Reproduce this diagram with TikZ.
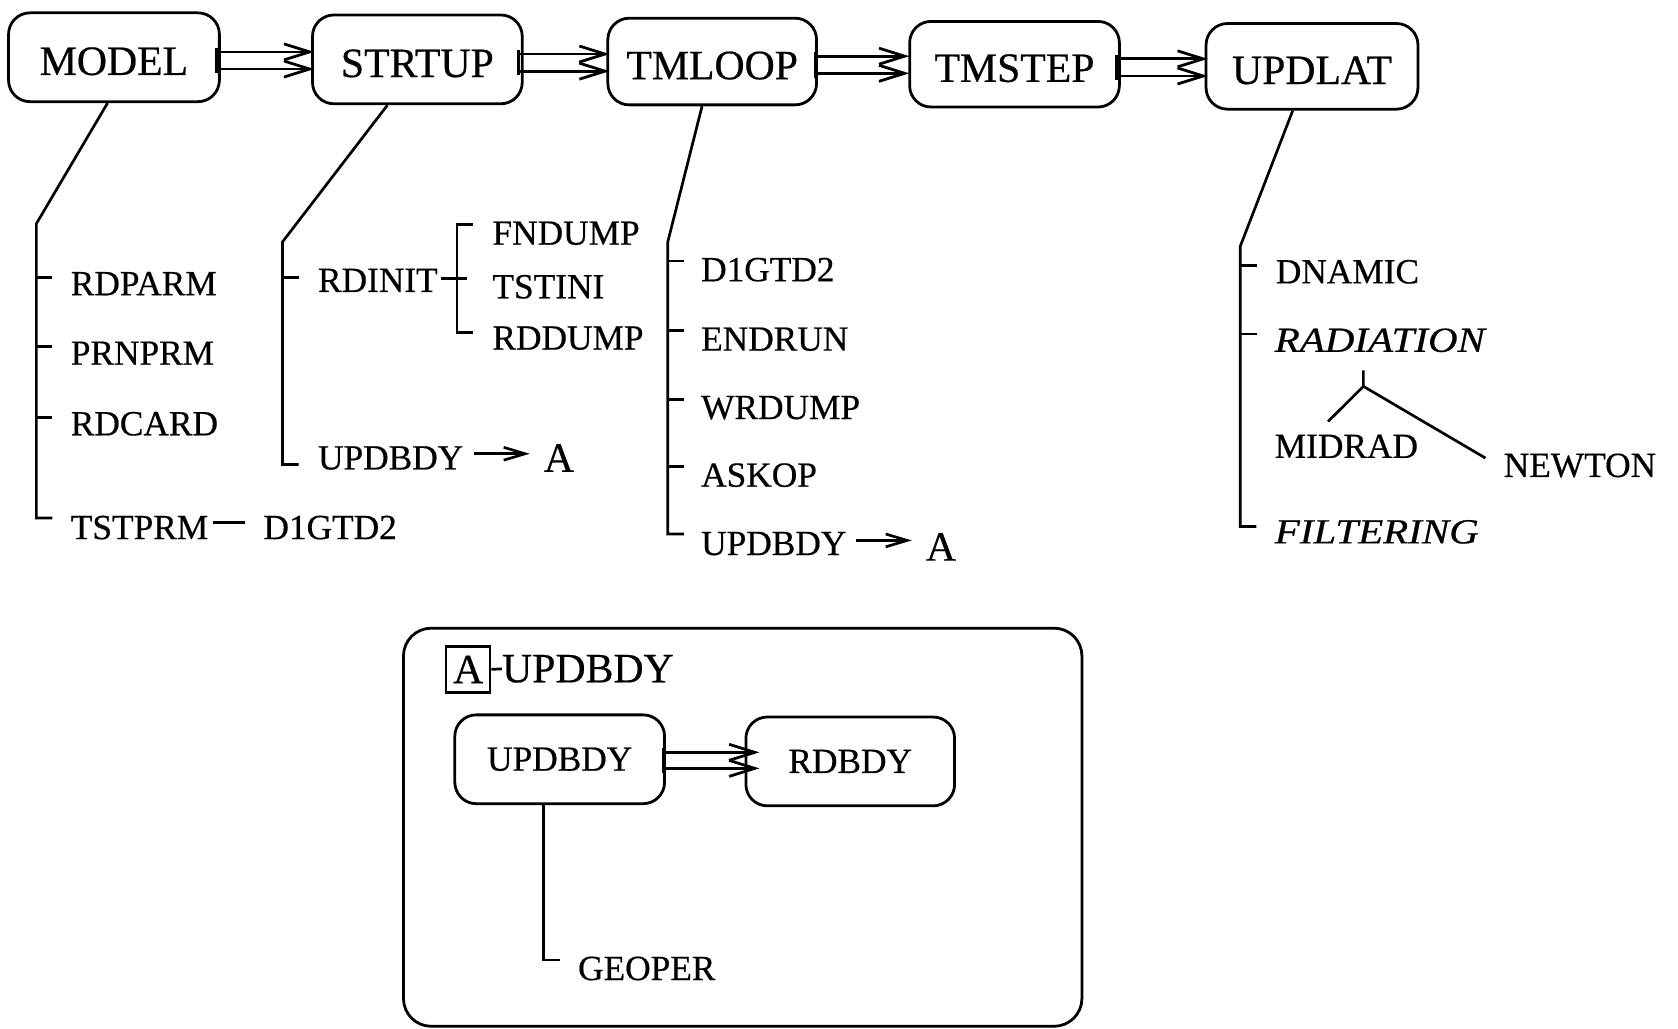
\documentclass[tikz,border=0pt]{standalone}
\usepackage{fontspec}
\usepackage{graphicx}
\setmainfont{Liberation Serif}[FakeBold=0.5]
\usetikzlibrary{arrows.meta,calc}
\newcommand\BigFnt{\fontsize{39}{39}\selectfont}
\newcommand\LabFnt{\fontsize{33}{33}\selectfont}
\newcommand\WideIt[1]{\scalebox{1.16}[1]{\itshape #1}}
% double connector: #1 source, #2 target, #3 upper offset, #4 lower offset, #5 bar x offset, #6 tip x offset
\newcommand\DblArr[6]{%
  \coordinate (da) at ($(#1.east)+(#5,#3)$);
  \coordinate (db) at ($(#1.east)+(#5,#4)$);
  \draw[dblconn] (da) -- ($(da -| #2.west)+(#6,0)$);
  \draw[dblconn] (db) -- ($(db -| #2.west)+(#6,0)$);
  \draw[treeline] ($(da)+(0,-4)$) -- ($(db)+(0,4)$);
}
\begin{document}
\begin{tikzpicture}[x=1pt,y=-1pt,
  boxbase/.style={draw, rounded corners=20pt, inner sep=0pt, line width=2.6pt, minimum width=196pt, minimum height=82pt},
  bigbox/.style={boxbase, font=\BigFnt, text height=33pt, text depth=0pt},
  smallbox/.style={boxbase, font=\LabFnt},
  labnode/.style={anchor=west, inner sep=0pt, font=\LabFnt},
  biglab/.style={anchor=west, inner sep=0pt, font=\BigFnt},
  treeline/.style={line width=2.5pt},
  dblconn/.style={line width=2.6pt, -{Straight Barb[length=24pt,width=15pt]}},
  sarrow/.style={line width=2.5pt, -{Straight Barb[length=20pt,width=12pt]}},
]
\useasboundingbox (0,0) rectangle (1568,961);

% ---- top row ----
\node[bigbox, minimum width=197pt, minimum height=83pt] (MODEL) at (106.5,53.5) {MODEL};
\node[bigbox, minimum height=83pt] (STRTUP) at (390,55.5) {STRTUP};
\node[bigbox, minimum width=195pt, minimum height=81pt] (TMLOOP) at (665.5,57.5) {TMLOOP};
\node[bigbox, minimum height=80pt] (TMSTEP) at (948,60) {TMSTEP};
\node[bigbox, minimum width=198pt, minimum height=80pt] (UPDLAT) at (1226,62) {UPDLAT};

\DblArr{MODEL}{STRTUP}{-5}{11}{-4}{3}
\DblArr{STRTUP}{TMLOOP}{-5}{11}{-5}{3}
\DblArr{TMLOOP}{TMSTEP}{-5}{11}{-2}{1}
\DblArr{TMSTEP}{UPDLAT}{-5}{11}{-4}{3}

% ---- MODEL tree ----
\node[labnode] (RDPARM) at (66,265) {RDPARM};
\node[labnode] (PRNPRM) at (66,330) {PRNPRM};
\node[labnode] (RDCARD) at (66,396) {RDCARD};
\node[labnode] (TSTPRM) at (66,493) {TSTPRM};
\node[labnode] (DGa) at (246,493) {D1GTD2};
\coordinate (m1) at (34,209);
\coordinate (m2) at (34,484);
\draw[treeline] ([xshift=-6pt]MODEL.south) -- (m1) -- (m2) -- ++(15,0);
\foreach \n in {RDPARM,PRNPRM,RDCARD} \draw[treeline] ($(m1 |- \n.west)+(0,-6)$) -- ++(15,0);
\draw[treeline] ($(TSTPRM.east)+(4,-5)$) -- ($(DGa.west)+(-17,-5)$);

% ---- STRTUP tree ----
\node[labnode] (RDINIT) at (297,262) {RDINIT};
\node[labnode] (FNDUMP) at (460,218) {FNDUMP};
\node[labnode] (TSTINI) at (460,268) {TSTINI};
\node[labnode] (RDDUMP) at (460,316) {RDDUMP};
\node[labnode] (UPa) at (297,428) {UPDBDY};
\node[biglab] (Aa) at (508,428) {A};
\coordinate (s1) at (264,226);
\coordinate (s2) at (264,434);
\draw[treeline] ([xshift=-28pt]STRTUP.south) -- (s1) -- (s2) -- ++(15,0);
\draw[treeline] ($(s1 |- RDINIT.west)+(0,-3)$) -- ++(15,0);
\coordinate (b1) at (427,210);
\coordinate (b2) at (427,311);
\draw[treeline] ($(b1)+(15,0)$) -- (b1) -- (b2) -- ++(15,0);
\draw[treeline] ($(RDINIT.east)+(3,-2)$) -- ($(RDINIT.east -| b1)+(9,-2)$);
\draw[sarrow] ($(UPa.east)+(10,-4)$) -- ($(Aa.west |- UPa.west)+(-13,-4)$);

% ---- TMLOOP tree ----
\node[labnode] (DGb) at (655,252) {D1GTD2};
\node[labnode] (ENDRUN) at (655,317) {ENDRUN};
\node[labnode] (WRDUMP) at (655,381) {WRDUMP};
\node[labnode] (ASKOP) at (655,444) {ASKOP};
\node[labnode] (UPb) at (655,508) {UPDBDY};
\node[biglab] (Ab) at (865,511) {A};
\coordinate (t1) at (624,226);
\coordinate (t2) at (624,499);
\draw[treeline] ([xshift=-9.5pt]TMLOOP.south) -- (t1) -- (t2) -- ++(15,0);
\foreach \n in {DGb,ENDRUN,WRDUMP,ASKOP} \draw[treeline] ($(t1 |- \n.west)+(0,-8)$) -- ++(15,0);
\draw[sarrow] ($(UPb.east)+(9,-3)$) -- ($(Ab.west |- UPb.west)+(-13,-3)$);

% ---- UPDLAT tree ----
\node[labnode] (DNAMIC) at (1192,254) {DNAMIC};
\node[labnode] (RAD) at (1191,318) {\WideIt{RADIATION}};
\node[labnode] (MIDRAD) at (1191,417) {MIDRAD};
\node[labnode] (NEWTON) at (1405,435) {NEWTON};
\node[labnode] (FILT) at (1191,497) {\WideIt{FILTERING}};
\coordinate (u1) at (1159,230);
\coordinate (u2) at (1159,492);
\draw[treeline] ([xshift=-18pt]UPDLAT.south) -- (u1) -- (u2) -- ++(15,0);
\foreach \n in {DNAMIC,RAD} \draw[treeline] ($(u1 |- \n.west)+(0,-6)$) -- ++(16,0);
\coordinate (r0) at (1274,346);
\coordinate (r1) at (1274,361);
\draw[treeline] (r0) -- (r1) -- ($(MIDRAD.north west)+(50,-12)$);
\draw[treeline] (r1) -- ($(NEWTON.west)+(-17,-7)$);

% ---- bottom frame ----
\node[draw, rounded corners=26pt, line width=2.6pt, minimum width=634pt, minimum height=372pt, inner sep=0pt] (FRAME) at (694,773) {};
\node[draw, line width=2.2pt, minimum width=41pt, minimum height=43pt, inner sep=0pt, font=\BigFnt] (ABOX) at (437.5,625.5) {A};
\node[biglab] (TITLE) at (469,625) {UPDBDY};
\draw[treeline] (ABOX.east) -- (TITLE.west);

\node[smallbox, minimum width=196pt, minimum height=83pt] (UB) at (523,709.5) {UPDBDY};
\node[smallbox, minimum width=195pt, minimum height=83pt] (RB) at (794.5,711.5) {RDBDY};
\DblArr{UB}{RB}{-6.5}{8.5}{-2}{14}

\node[labnode] (GEOPER) at (540,905) {GEOPER};
\coordinate (g1) at (508,897);
\draw[treeline] ([xshift=-15pt]UB.south) -- (g1) -- ++(15,0);
\end{tikzpicture}
\end{document}
